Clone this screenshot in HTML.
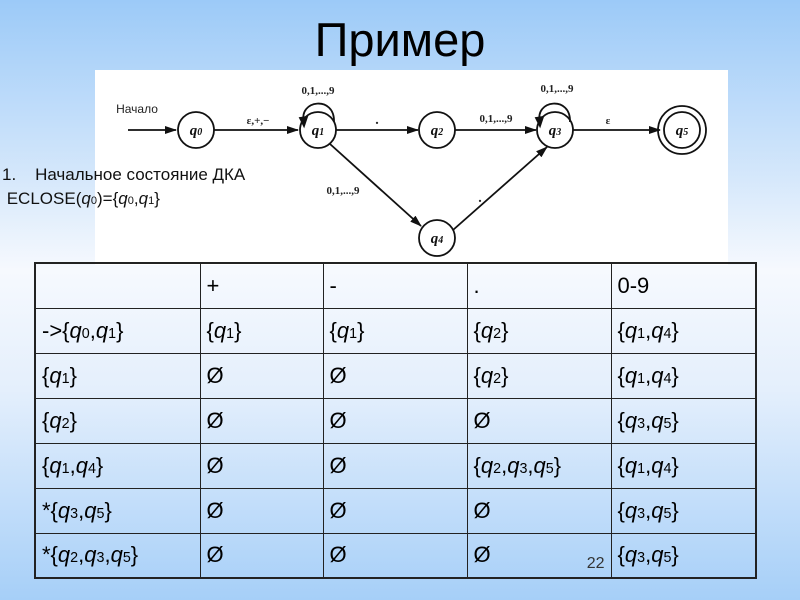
<!DOCTYPE html>
<html><head><meta charset="utf-8"><style>
body{margin:0;width:800px;height:600px;overflow:hidden;position:relative;font-family:"Liberation Sans",sans-serif;
background:linear-gradient(#9ccaf8 0%,#d6e8fb 30%,#f6f9fe 45%,#e4effc 65%,#a6cff8 100%);}
#title{position:absolute;left:0;width:800px;top:12px;text-align:center;font-size:47px;color:#000;}
#img{position:absolute;left:95px;top:70px;width:633px;height:195px;background:#fff;}
#txt{position:absolute;left:2px;top:163px;font-size:17px;color:#111;line-height:24px;}
i{font-style:italic}
sub{font-size:65%;vertical-align:baseline;font-style:normal}
table{position:absolute;left:34px;top:262px;border-collapse:collapse;font-size:22px;}
td{border:1px solid #222;height:45px;padding:0 0 0 6px;box-sizing:border-box;vertical-align:middle}
table{border:2px solid #222}
</style></head><body>
<div id="title">Пример</div>
<div id="img">
<svg width="633" height="195" viewBox="95 70 633 195" style="font-family:'Liberation Serif',serif">
<defs><marker id="a" markerWidth="12" markerHeight="8" refX="11" refY="4" orient="auto" markerUnits="userSpaceOnUse"><path d="M0,0L12,4L0,8z" fill="#111"/></marker></defs>
<g stroke="#111" stroke-width="1.8" fill="none">
<line x1="128" y1="130" x2="176" y2="130" marker-end="url(#a)"/>
<line x1="214" y1="130" x2="298" y2="130" marker-end="url(#a)"/>
<line x1="336" y1="130" x2="418" y2="130" marker-end="url(#a)"/>
<line x1="455" y1="130" x2="536" y2="130" marker-end="url(#a)"/>
<line x1="573" y1="130" x2="660" y2="130" marker-end="url(#a)"/>
<line x1="330" y1="144" x2="421" y2="226" marker-end="url(#a)"/>
<line x1="453" y1="230" x2="547" y2="147" marker-end="url(#a)"/>
<path d="M304,122 C298,100 335,95 334,122" />
<path d="M540,122 C534,100 571,95 570,122"/>
<path d="M300,118 l4,8 l3,-9z" fill="#111"/>
<path d="M536,118 l4,8 l3,-9z" fill="#111"/>
<circle cx="196" cy="130" r="18"/><circle cx="318" cy="130" r="18"/><circle cx="437" cy="130" r="18"/>
<circle cx="555" cy="130" r="18"/><circle cx="682" cy="130" r="24"/><circle cx="682" cy="130" r="18"/>
<circle cx="437" cy="238" r="18"/>
</g>
<g font-size="15" font-style="italic" fill="#111" text-anchor="middle" font-weight="bold">
<text x="196" y="135">q<tspan font-size="10">0</tspan></text><text x="318" y="135">q<tspan font-size="10">1</tspan></text>
<text x="437" y="135">q<tspan font-size="10">2</tspan></text><text x="555" y="135">q<tspan font-size="10">3</tspan></text>
<text x="682" y="135">q<tspan font-size="10">5</tspan></text><text x="437" y="243">q<tspan font-size="10">4</tspan></text>
</g>
<g font-size="11" fill="#222" text-anchor="middle" font-weight="bold">
<text x="137" y="113" font-family="Liberation Sans" font-weight="normal" font-size="12">Начало</text>
<text x="258" y="124">ε,+,−</text><text x="318" y="94">0,1,...,9</text><text x="377" y="124" font-size="14">.</text>
<text x="496" y="122">0,1,...,9</text><text x="557" y="92">0,1,...,9</text><text x="608" y="124">ε</text>
<text x="343" y="194">0,1,...,9</text><text x="480" y="202" font-size="14">.</text>
</g></svg></div>
<div id="txt">1.&nbsp;&nbsp;&nbsp;&nbsp;Начальное состояние ДКА<br>&nbsp;ECLOSE(<i>q</i><sub>0</sub>)={<i>q</i><sub>0</sub>,<i>q</i><sub>1</sub>}</div>
<table>
<colgroup><col style="width:165px"><col style="width:123px"><col style="width:144px"><col style="width:144px"><col style="width:145px"></colgroup>
<tr><td></td><td>+</td><td>-</td><td>.</td><td>0-9</td></tr>
<tr><td>-&gt;{<i>q</i><sub>0</sub>,<i>q</i><sub>1</sub>}</td><td>{<i>q</i><sub>1</sub>}</td><td>{<i>q</i><sub>1</sub>}</td><td>{<i>q</i><sub>2</sub>}</td><td>{<i>q</i><sub>1</sub>,<i>q</i><sub>4</sub>}</td></tr>
<tr><td>{<i>q</i><sub>1</sub>}</td><td>Ø</td><td>Ø</td><td>{<i>q</i><sub>2</sub>}</td><td>{<i>q</i><sub>1</sub>,<i>q</i><sub>4</sub>}</td></tr>
<tr><td>{<i>q</i><sub>2</sub>}</td><td>Ø</td><td>Ø</td><td>Ø</td><td>{<i>q</i><sub>3</sub>,<i>q</i><sub>5</sub>}</td></tr>
<tr><td>{<i>q</i><sub>1</sub>,<i>q</i><sub>4</sub>}</td><td>Ø</td><td>Ø</td><td>{<i>q</i><sub>2</sub>,<i>q</i><sub>3</sub>,<i>q</i><sub>5</sub>}</td><td>{<i>q</i><sub>1</sub>,<i>q</i><sub>4</sub>}</td></tr>
<tr><td>*{<i>q</i><sub>3</sub>,<i>q</i><sub>5</sub>}</td><td>Ø</td><td>Ø</td><td>Ø</td><td>{<i>q</i><sub>3</sub>,<i>q</i><sub>5</sub>}</td></tr>
<tr><td>*{<i>q</i><sub>2</sub>,<i>q</i><sub>3</sub>,<i>q</i><sub>5</sub>}</td><td>Ø</td><td>Ø</td><td style="position:relative">Ø<span style="position:absolute;right:6px;bottom:4px;font-size:16px;color:#333">22</span></td><td>{<i>q</i><sub>3</sub>,<i>q</i><sub>5</sub>}</td></tr>
</table>
</body></html>
